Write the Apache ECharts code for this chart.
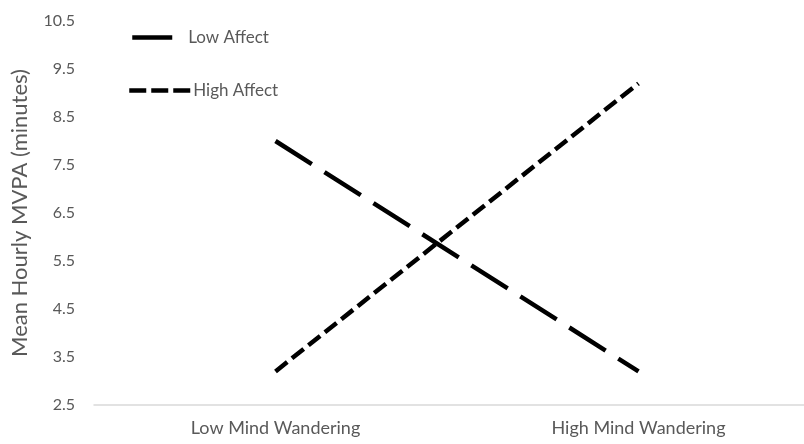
<!DOCTYPE html>
<html>
<head>
<meta charset="utf-8">
<script src="https://cdn.jsdelivr.net/npm/echarts@6/dist/echarts.min.js"></script>
<style>
  html, body { margin: 0; padding: 0; background: #fff; }
  #chart { width: 804px; height: 444px; }
</style>
</head>
<body>
<div id="chart"></div>
<script>
const categories = ['Low Mind Wandering', 'High Mind Wandering'];
const lowAffect = [8.0, 3.2];
const highAffect = [3.2, 9.2];
const yTicks = { min: 2.5, max: 10.5, interval: 1 };

const FONT = 'Lato';
const GREY = '#595959';

const chart = echarts.init(document.getElementById('chart'));
chart.setOption({
  backgroundColor: '#fff',
  animation: false,
  textStyle: { fontFamily: FONT },
  grid: { left: 94, right: -16, top: 21, bottom: 39, outerBoundsMode: 'none', containLabel: false },
  legend: [
    {
      data: ['Low Affect'],
      left: 125, top: 24,
      itemWidth: 40, itemHeight: 14,
      itemStyle: { opacity: 0 },
      lineStyle: { width: 4.5, color: '#000', type: 'solid' },
      textStyle: { fontFamily: FONT, fontSize: 17, color: GREY, padding: [0, 0, 0, 11] }
    },
    {
      data: ['High Affect'],
      left: 122, top: 77,
      itemWidth: 61, itemHeight: 14,
      itemStyle: { opacity: 0 },
      lineStyle: { width: 4.5, color: '#000', type: [17, 5] },
      textStyle: { fontFamily: FONT, fontSize: 17, color: GREY, padding: [0, 0, 0, -2] }
    }
  ],
  xAxis: {
    type: 'category',
    data: categories,
    boundaryGap: true,
    axisLine: { lineStyle: { color: '#d9d9d9', width: 1.5 } },
    axisTick: { show: false },
    axisLabel: { fontFamily: FONT, fontSize: 18, color: GREY, margin: 14 }
  },
  yAxis: {
    type: 'value',
    min: yTicks.min, max: yTicks.max, interval: yTicks.interval,
    name: 'Mean Hourly MVPA (minutes)',
    nameLocation: 'middle',
    nameGap: 63,
    nameTextStyle: { fontFamily: FONT, fontSize: 22, color: GREY },
    axisLine: { show: false },
    axisTick: { show: false },
    splitLine: { show: false },
    axisLabel: { fontFamily: FONT, fontSize: 16, color: GREY, margin: 19,
      formatter: v => v.toFixed(1) }
  },
  series: [
    {
      name: 'Low Affect', type: 'line', data: lowAffect,
      symbol: 'none', showSymbol: false,
      lineStyle: { color: '#000', width: 4.5, type: [43, 15], cap: 'butt' },
      itemStyle: { color: '#000' }
    },
    {
      name: 'High Affect', type: 'line', data: highAffect,
      symbol: 'none', showSymbol: false,
      lineStyle: { color: '#000', width: 4.5, type: [15, 6], cap: 'butt' },
      itemStyle: { color: '#000' }
    }
  ]
});
</script>
</body>
</html>
